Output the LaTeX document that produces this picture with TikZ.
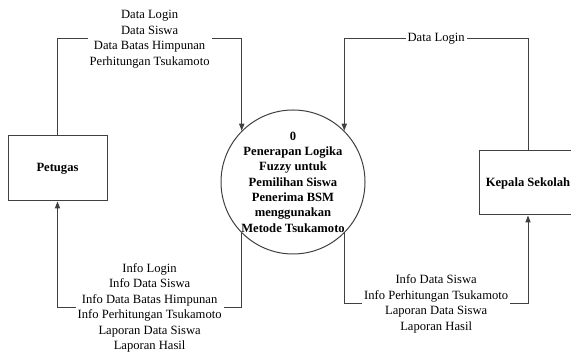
\documentclass[tikz,border=0pt]{standalone}
\usepackage{fontspec}
\setmainfont{Liberation Serif}
\usepackage{tikz}
\usetikzlibrary{arrows.meta}

\begin{document}
\begin{tikzpicture}[x=0.5pt, y=0.5pt,
    entitas/.style={draw=black!75, line width=0.5pt, minimum width=49.5pt, minimum height=32.5pt, font=\fontsize{6.3}{7.7}\selectfont\bfseries},
    proses/.style={draw=black!75, line width=0.5pt, circle, minimum size=72pt, inner sep=0pt, align=center, font=\fontsize{6.3}{7.65}\selectfont\bfseries},
    alur/.style={draw=black!75, line width=0.5pt, -{Triangle[length=3.5pt,width=2.6pt]}},
    ket/.style={fill=white, align=center, inner sep=1pt, font=\fontsize{6.3}{7.75}\selectfont}]
    \useasboundingbox (0,0) rectangle (571,352);
    \clip (0,0) rectangle (571,352);

    % Entities and process
    \node[entitas] (petugas) at (57.5,183.5) {Petugas};
    \node[entitas, minimum width=49pt, minimum height=32pt] (kepala) at (528,169) {Kepala Sekolah};
    \node[proses] (sistem) at (293,170) {0\\Penerapan Logika\\Fuzzy untuk\\Pemilihan Siswa\\Penerima BSM\\menggunakan\\Metode Tsukamoto};

    % Heights of the horizontal runs
    \coordinate (atas) at (0,313);
    \coordinate (bawahKiri) at (0,44);
    \coordinate (bawahKanan) at (0,48);

    % Data flows
    \draw[alur] (petugas.north) -- (petugas.north |- atas)
        -- node[ket] {Data Login\\Data Siswa\\Data Batas Himpunan\\Perhitungan Tsukamoto} (sistem.135 |- atas)
        -- (sistem.135);
    \draw[alur] (kepala.north) -- (kepala.north |- atas)
        -- node[ket] {Data Login} (sistem.45 |- atas)
        -- (sistem.45);
    \draw[alur] (sistem.225) -- (sistem.225 |- bawahKiri)
        -- node[ket] {Info Login\\Info Data Siswa\\Info Data Batas Himpunan\\Info Perhitungan Tsukamoto\\Laporan Data Siswa\\Laporan Hasil} (petugas.south |- bawahKiri)
        -- (petugas.south);
    \draw[alur] (sistem.315) -- (sistem.315 |- bawahKanan)
        -- node[ket] {Info Data Siswa\\Info Perhitungan Tsukamoto\\Laporan Data Siswa\\Laporan Hasil} (kepala.south |- bawahKanan)
        -- (kepala.south);
\end{tikzpicture}
\end{document}
